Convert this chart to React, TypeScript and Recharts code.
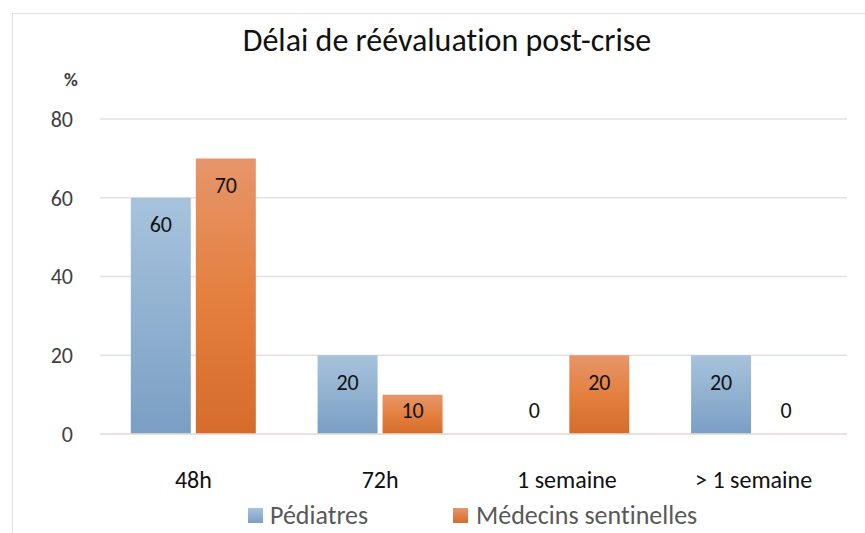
import { BarChart, Bar, XAxis, YAxis, CartesianGrid, Legend, LabelList, Customized } from 'recharts';

const categories = ['48h', '72h', '1 semaine', '> 1 semaine'];
const pediatres = [60, 20, 0, 20];
const sentinelles = [70, 10, 20, 0];
const yTicks = [0, 20, 40, 60, 80];

const data = categories.map((name, i) => ({ name, pediatres: pediatres[i], sentinelles: sentinelles[i] }));

const FONT = 'Carlito, Lato, "Open Sans", sans-serif';
const GRID = '#e6e0dd';
const NOLIG = { fontVariantLigatures: 'none' } as const;

// zero bars still get a hairline so their value label is drawn
const tinyForZero = (v: any) => (v === 0 ? 0.01 : 0);

const ValueLabel = (props: any) => {
  const { x, y, width, height, value } = props;
  const cy = Math.min(y + 27, y + height - 24);
  return (
    <text x={x + width / 2} y={cy} textAnchor="middle" dominantBaseline="central" fontSize={22} fill="#111" fontFamily={FONT}>
      {String(value)}
    </text>
  );
};

const LegendContent = () => (
  <div style={{ display: 'flex', paddingLeft: 248, fontFamily: FONT, fontSize: 26, color: '#595959', alignItems: 'center', height: 36, ...NOLIG }}>
    <div style={{ width: 205, display: 'flex', alignItems: 'center' }}>
      <span style={{ width: 15, height: 15, marginRight: 7, background: 'linear-gradient(#a7c3dc, #7a9fc4)' }} />
      Pédiatres
    </div>
    <div style={{ display: 'flex', alignItems: 'center' }}>
      <span style={{ width: 15, height: 15, marginRight: 8, background: 'linear-gradient(#e6956b, #d56c2b)' }} />
      Médecins sentinelles
    </div>
  </div>
);

export default function App() {
  return (
    <div style={{ position: 'absolute', left: 0, top: 0, width: 865, height: 533, overflow: 'hidden', background: '#fff' }}>
      <div style={{ position: 'absolute', left: 12, top: 13, width: 900, height: 600, border: `1.5px solid ${GRID}` }} />
      <BarChart
        width={865}
        height={533}
        data={data}
        margin={{ top: 119, right: 18, left: 0, bottom: 0 }}
        barCategoryGap="16.5%"
        barGap={5}
        style={{ position: 'absolute', left: 0, top: 0 }}
      >
        <defs>
          <linearGradient id="gBlue" x1="0" y1="0" x2="0" y2="1">
            <stop offset="0%" stopColor="#a7c3dc" />
            <stop offset="100%" stopColor="#7a9fc4" />
          </linearGradient>
          <linearGradient id="gOrange" x1="0" y1="0" x2="0" y2="1">
            <stop offset="0%" stopColor="#e6956b" />
            <stop offset="50%" stopColor="#e4803f" />
            <stop offset="100%" stopColor="#d56c2b" />
          </linearGradient>
        </defs>
        <CartesianGrid vertical={false} stroke={GRID} strokeWidth={1.5} />
        <XAxis
          dataKey="name"
          height={63}
          axisLine={{ stroke: GRID, strokeWidth: 1.5 }}
          tickLine={false}
          tickSize={0}
          tickMargin={37}
          tick={{ fontSize: 24, fill: '#111', fontFamily: FONT, style: NOLIG }}
        />
        <YAxis
          width={100}
          domain={[0, 80]}
          ticks={yTicks}
          axisLine={false}
          tickLine={false}
          tickSize={0}
          tickMargin={27}
          tick={{ fontSize: 22, fill: '#404040', fontFamily: FONT }}
        />
        <Legend verticalAlign="bottom" height={36} content={LegendContent} />
        <Bar dataKey="pediatres" name="Pédiatres" fill="url(#gBlue)" minPointSize={tinyForZero} isAnimationActive={false}>
          <LabelList dataKey="pediatres" content={ValueLabel} />
        </Bar>
        <Bar dataKey="sentinelles" name="Médecins sentinelles" fill="url(#gOrange)" minPointSize={tinyForZero} isAnimationActive={false}>
          <LabelList dataKey="sentinelles" content={ValueLabel} />
        </Bar>
        <Customized
          component={() => (
            <g fontFamily={FONT} style={NOLIG}>
              <text x={447} y={40} textAnchor="middle" dominantBaseline="central" fontSize={32} fill="#111">
                Délai de réévaluation post-crise
              </text>
              <text x={71} y={79} textAnchor="middle" dominantBaseline="central" fontSize={19} fontWeight="bold" fill="#404040">
                %
              </text>
            </g>
          )}
        />
      </BarChart>
    </div>
  );
}
